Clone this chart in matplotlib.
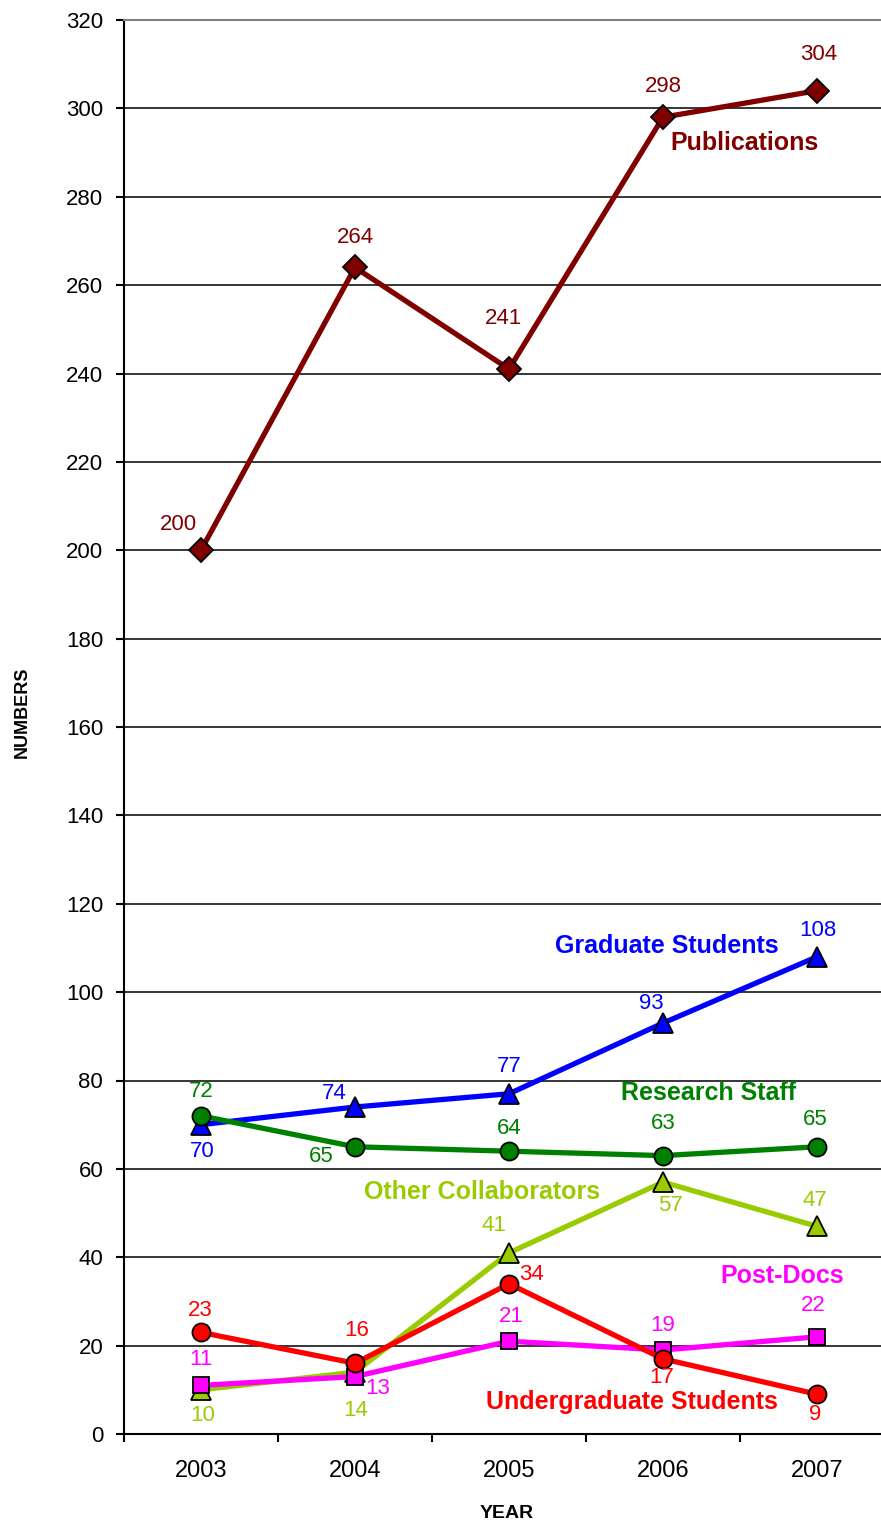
import matplotlib
matplotlib.use("Agg")
import matplotlib.pyplot as plt
from matplotlib.ticker import FixedLocator, NullFormatter

plt.rcParams['font.family'] = ['Liberation Sans', 'DejaVu Sans']

years = ['2003', '2004', '2005', '2006', '2007']
publications = [200, 264, 241, 298, 304]
graduate = [70, 74, 77, 93, 108]
research_staff = [72, 65, 64, 63, 65]
other_collab = [10, 14, 41, 57, 47]
post_docs = [11, 13, 21, 19, 22]
undergrad = [23, 16, 34, 17, 9]
series_names = ['Publications', 'Graduate Students', 'Research Staff',
                'Other Collaborators', 'Post-Docs', 'Undergraduate Students']

series = [
    (publications, '#800000', 'D', 12),
    (graduate, '#0000FF', '^', 14),
    (research_staff, '#008000', 'o', 13),
    (other_collab, '#99CC00', '^', 14),
    (post_docs, '#FF00FF', 's', 12),
    (undergrad, '#FF0000', 'o', 13),
]

# label offsets in pixels (dx, dy) for each value label
offsets = [
    [(-23, 26), (0, 30), (-6, 51), (0, 31), (2, 36)],
    [(1, -27), (-21, 14), (0, 27), (-12, 20), (1, 26)],
    [(0, 24), (-34, -10), (0, 23), (0, 32), (-2, 27)],
    [(2, -26), (1, -38), (-15, 27), (7, -23), (-2, 26)],
    [(0, 26), (23, -12), (2, 25), (0, 25), (-4, 31)],
    [(-1, 22), (2, 33), (22, 9), (-1, -19), (-2, -20)],
]
name_pos = [(3.526, 292.2), (3.026, 110.4), (3.299, 77.2),
            (1.825, 54.8), (3.773, 35.8), (2.799, 7.2)]

W, H = 881, 1523
fig = plt.figure(figsize=(W / 100, H / 100), dpi=100)
ax = fig.add_axes([124 / W, (H - 1434) / H, 770 / W, 1414 / H])

x = list(range(len(years)))
ax.set_xlim(-0.5, 4.5)
ax.set_ylim(0, 320)

ax.set_yticks(range(0, 321, 20))
ax.yaxis.grid(True, color='black', lw=1.1)
ax.set_axisbelow(True)

ax.spines['right'].set_visible(False)
ax.spines['top'].set_color('#808080')
ax.spines['top'].set_linewidth(1.5)
ax.spines['left'].set_linewidth(1.5)
ax.spines['bottom'].set_linewidth(1.5)

ax.xaxis.set_major_locator(FixedLocator([-0.5, 0.5, 1.5, 2.5, 3.5, 4.5]))
ax.xaxis.set_major_formatter(NullFormatter())
ax.xaxis.set_minor_locator(FixedLocator(x))
ax.set_xticklabels(years, minor=True)
ax.tick_params(axis='x', which='major', length=6, width=1.5, direction='out')
ax.tick_params(axis='x', which='minor', length=0, pad=19, labelsize=17)
ax.tick_params(axis='y', length=6, width=1.5, direction='out', pad=9, labelsize=16)

for (vals, color, marker, ms), offs, name, npos in zip(series, offsets, series_names, name_pos):
    ax.plot(x, vals, color=color, lw=3.8, marker=marker, markersize=ms,
            markerfacecolor=color, markeredgecolor='black', markeredgewidth=1.3,
            zorder=3, clip_on=False)
    for xi, v, (dx, dy) in zip(x, vals, offs):
        ax.annotate(str(v), (xi, v), xytext=(dx, dy), textcoords='offset pixels',
                    ha='center', va='center', color=color, fontsize=16, zorder=4)
    ax.text(npos[0], npos[1], name, color=color, fontsize=18, fontweight='bold',
            ha='center', va='center', zorder=4)

fig.text(22 / W, 1 - 712 / H, 'NUMBERS', rotation=90, ha='center', va='center',
         fontsize=13, fontweight='bold')
fig.text(507 / W, 1 - 1513 / H, 'YEAR', ha='center', va='center',
         fontsize=14, fontweight='bold')

fig.savefig('out.png', dpi=100)
